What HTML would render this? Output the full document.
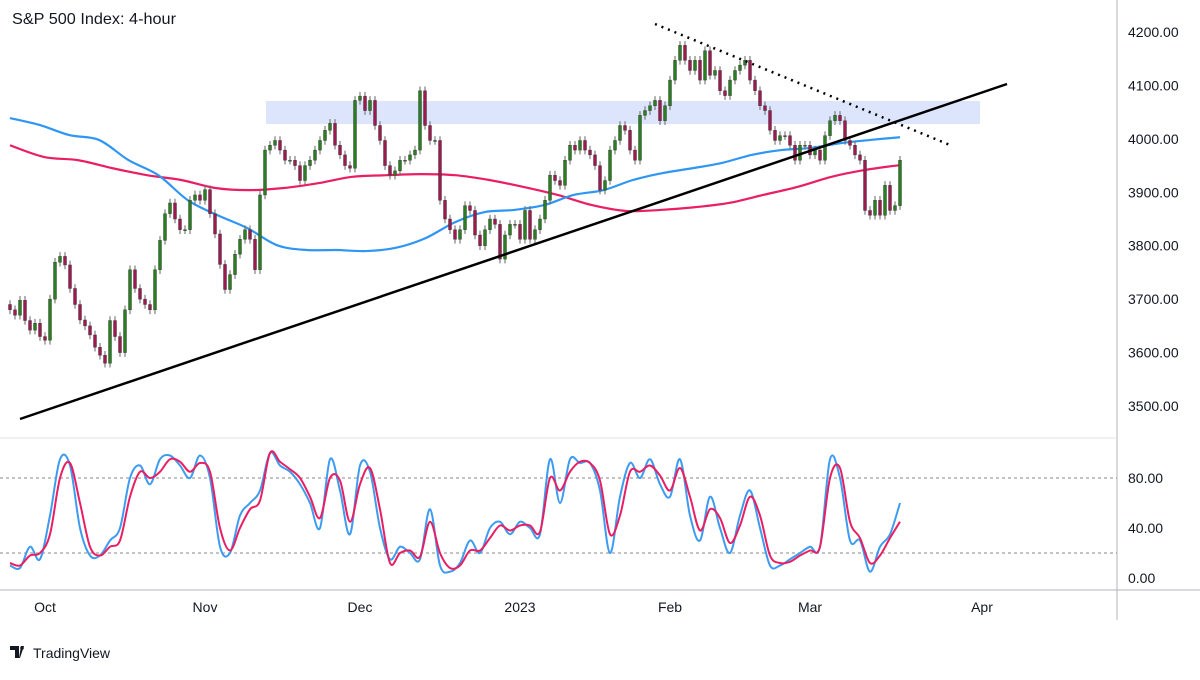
<!DOCTYPE html>
<html><head><meta charset="utf-8"><style>
body{margin:0;background:#fff;font-family:"Liberation Sans",sans-serif}
svg text{font-family:"Liberation Sans",sans-serif}
</style></head><body>
<svg id="c" width="1200" height="675" viewBox="0 0 1200 675"></svg>
<script>
const closes=[3680,3670,3698,3660,3642,3655,3630,3623,3700,3769,3780,3764,3720,3690,3661,3650,3633,3610,3595,3580,3660,3630,3600,3680,3755,3720,3700,3690,3680,3755,3810,3860,3880,3850,3830,3830,3885,3895,3885,3905,3860,3822,3765,3718,3746,3784,3812,3830,3812,3755,3895,3979,3988,3997,3979,3960,3960,3950,3922,3950,3960,3979,3997,4016,4029,3988,3970,3950,3945,4072,4080,4053,4072,4025,3997,3950,3932,3940,3960,3960,3970,3979,4090,4025,3997,3997,3885,3850,3830,3812,3830,3875,3866,3820,3800,3830,3850,3840,3775,3820,3840,3840,3812,3866,3812,3830,3850,3885,3932,3922,3913,3960,3988,3979,3997,3979,3970,3950,3904,3922,3979,3997,4025,4016,3979,3960,4044,4053,4062,4072,4034,4062,4110,4147,4175,4147,4128,4147,4110,4165,4119,4128,4090,4081,4110,4128,4138,4147,4110,4090,4062,4053,4016,3997,4006,4006,3988,3960,3988,3988,3970,3979,3960,4006,4034,4044,4034,3997,3988,3970,3960,3866,3857,3885,3857,3913,3866,3875,3960];
const maFast=[4039,4026,4007,3998,3960,3932,3885,3857,3833,3801,3792,3792,3790,3796,3814,3844,3863,3867,3876,3895,3904,3923,3936,3945,3955,3970,3979,3983,3992,3998,4003];
const maSlow=[3988,3966,3960,3945,3932,3923,3908,3904,3908,3917,3929,3932,3934,3932,3923,3910,3895,3876,3865,3867,3872,3880,3895,3910,3929,3942,3951];
const stochK=[10,8,25,15,50,95,90,40,18,18,30,40,80,90,75,95,98,90,80,98,80,25,20,50,60,70,100,90,85,75,60,40,95,70,35,90,85,40,15,25,20,15,55,10,5,12,30,20,40,45,35,45,40,35,95,60,95,92,92,70,20,65,92,80,95,75,65,95,50,30,65,40,20,50,70,40,10,10,15,20,25,25,95,80,30,30,5,25,35,60];
const stochD=[12,10,18,20,35,80,92,60,25,18,25,30,65,85,80,85,95,93,85,92,85,40,22,40,55,62,100,93,87,80,65,48,80,78,45,75,88,55,12,20,22,17,45,20,8,10,22,22,32,42,38,42,42,37,80,70,85,93,92,78,35,50,85,85,90,82,70,88,65,38,55,48,28,42,65,50,18,12,13,18,22,25,80,88,45,32,12,18,32,45];
const priceTicks=[4200,4100,4000,3900,3800,3700,3600,3500];
const stochTicks=[80,40,0];
const months=["Oct","Nov","Dec","2023","Feb","Mar","Apr"];
const monthBars=[7,39,70,102,132,160,194.4];

const NS="http://www.w3.org/2000/svg",svg=document.getElementById('c');
const X=i=>10+i*5, Y=p=>32+(4200-p)*0.5343, SY=v=>578-v*1.25;
function mk(t,a,parent){const e=document.createElementNS(NS,t);for(const k in a)e.setAttribute(k,a[k]);(parent||svg).appendChild(e);return e;}
const txt=(s,x,y,size,anchor,fill)=>{const e=mk('text',{x:x,y:y,'font-size':size,'text-anchor':anchor||'start',fill:fill||'#131722'});e.textContent=s;return e;};
function smooth(P){let d='M'+P[0][0]+','+P[0][1];for(let i=0;i<P.length-1;i++){const p0=P[i-1]||P[i],p1=P[i],p2=P[i+1],p3=P[i+2]||p2;
 d+=' C'+(p1[0]+(p2[0]-p0[0])/6)+','+(p1[1]+(p2[1]-p0[1])/6)+' '+(p2[0]-(p3[0]-p1[0])/6)+','+(p2[1]-(p3[1]-p1[1])/6)+' '+p2[0]+','+p2[1];}return d;}

let e=mk('line',{x1:1117,y1:0,x2:1117,y2:620,stroke:'#b2b5be'});
e=mk('line',{x1:0,y1:438,x2:1117,y2:438,stroke:'#e0e3eb'});
e=mk('line',{x1:0,y1:590,x2:1200,y2:590,stroke:'#b2b5be'});

e=mk('rect',{x:266,y:101,width:714,height:23,fill:'#dde5fc'});

function maLine(arr,color,name){const step=890/(arr.length-1);const P=arr.map((p,i)=>[10+i*step,Y(p)]);const l=mk('path',{d:smooth(P),fill:'none',stroke:color,'stroke-width':2.2});}
maLine(maSlow,'#e91e63','ma-200-line');
maLine(maFast,'#2f96f3','ma-100-line');

const cg=mk('g',{});
closes.forEach((c,i)=>{const o=i?closes[i-1]:c+10;const up=c>=o;const x=X(i);
 const hi=Math.max(o,c)+8, lo=Math.min(o,c)-8;
 const w=mk('line',{x1:x,x2:x,y1:Y(hi),y2:Y(lo),stroke:'#666','stroke-width':1},cg);
 
 const r=mk('rect',{x:x-1.5,y:Y(Math.max(o,c)),width:3,height:Math.max(1,Math.abs(Y(o)-Y(c))),fill:up?'#2a7d20':'#9c1a4f',stroke:'#333','stroke-width':0.4},cg);
 });

e=mk('line',{x1:20,y1:419,x2:1007,y2:84,stroke:'#000','stroke-width':2.5});
e=mk('line',{x1:655,y1:24,x2:950,y2:145,stroke:'#000','stroke-width':2.5,'stroke-dasharray':'2 5'});

priceTicks.forEach(p=>{const t=txt(p.toFixed(2),1128,Y(p)+5,14);});

[80,20].forEach(v=>{const l=mk('line',{x1:0,x2:1117,y1:SY(v),y2:SY(v),stroke:'#888','stroke-dasharray':'3 3'});});
stochTicks.forEach(v=>{const t=txt(v.toFixed(2),1128,SY(v)+5,14);});
function sline(arr,color,name){const P=arr.map((v,i)=>[10+i*10,SY(v)]);const l=mk('path',{d:smooth(P),fill:'none',stroke:color,'stroke-width':2});}
sline(stochK,'#3d9bf0','stoch-k-line');
sline(stochD,'#e91e63','stoch-d-line');

months.forEach((m,i)=>{const t=txt(m,X(monthBars[i]),612,14,'middle');});

e=txt('S&P 500 Index: 4-hour',12,24,16);
e.setAttribute('textLength','164');e.setAttribute('lengthAdjust','spacingAndGlyphs');
const lg=mk('g',{});
mk('path',{d:'M10 646h9v12h-4v-8h-5z M21 646h3l-4 12h-1z',fill:'#131722'},lg);
mk('circle',{cx:22,cy:648,r:1.8,fill:'#131722'},lg);
const lt=txt('TradingView',33,658,14);lg.appendChild(lt);
</script>
</body></html>
